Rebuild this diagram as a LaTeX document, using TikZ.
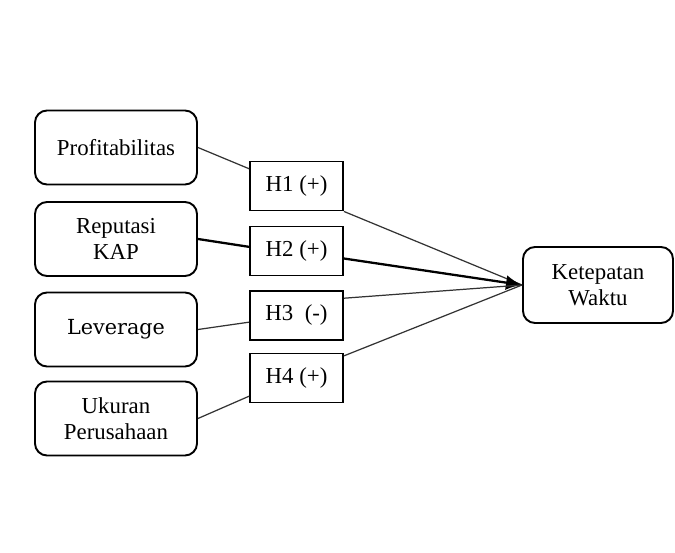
\documentclass[tikz,border=0pt]{standalone}
\usepackage{fontspec}
\setmainfont{Liberation Serif}
\newfontfamily\levfont{DejaVu Serif}
\usetikzlibrary{arrows.meta, positioning, calc}

\begin{document}
\begin{tikzpicture}[
  font=\fontsize{13}{14.5}\selectfont,
  var/.style={rectangle, draw, rounded corners=2.4mm, text width=3.0cm,
    minimum width=3.24cm, minimum height=1.48cm, align=center, line width=1.1pt, inner sep=1mm},
  hyp/.style={rectangle, draw, minimum width=1.86cm, minimum height=0.98cm,
    align=center, line width=1.1pt, inner sep=1mm},
  link/.style={line width=0.7pt, black!80},
  bold/.style={line width=1.3pt, black},
  arr/.style={-{Latex[length=3.2mm, width=3mm]}}
]
\useasboundingbox (0,0) rectangle (13.5,-11.06);
\node[var] (prof) at (2.32,-2.95) {Profitabilitas};
\node[var] (kap) at (2.32,-4.78) {Reputasi\\ KAP};
\node[var] (lev) at (2.32,-6.59) {\levfont\fontsize{11.8}{14}\selectfont Leverage};
\node[var] (size) at (2.32,-8.37) {Ukuran\\ Perusahaan};
\node[hyp] (h1) at (5.93,-3.72) {H1 (+)};
\node[hyp] (h2) at (5.93,-5.02) {H2 (+)};
\node[hyp] (h3) at (5.93,-6.31) {H3~~(-)};
\node[hyp] (h4) at (5.93,-7.56) {H4 (+)};
\node[var, text width=2.8cm, minimum width=3.0cm, minimum height=1.52cm] (time) at (11.96,-5.70)
  {Ketepatan\\ Waktu};
\draw[link] (prof.east) -- (h1.160);
\draw[bold] (kap.east) -- (h2.175);
\draw[link] (lev.east) -- (h3.188);
\draw[link] (size.east) -- (h4.201);
\draw[link] (h1.south east) -- (time.west);
\draw[bold, arr] (h2.351) -- (time.west);
\draw[link] (h3.20) -- (time.west);
\draw[link] (h4.25) -- (time.west);
\end{tikzpicture}
\end{document}
